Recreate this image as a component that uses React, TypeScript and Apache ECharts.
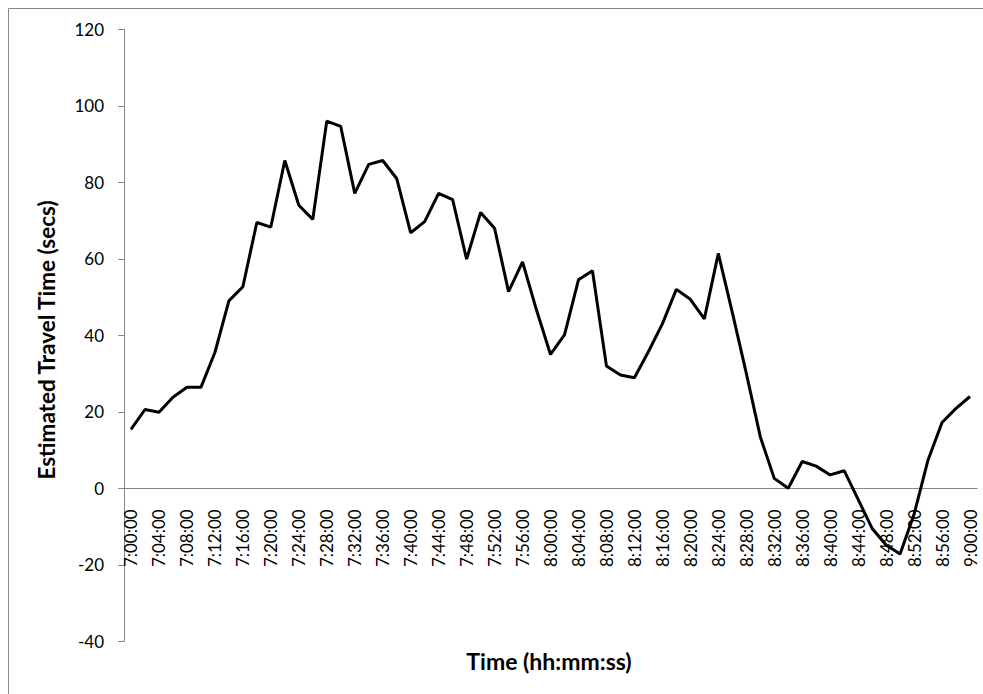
import React, { useEffect, useRef } from "react";
import * as echarts from "echarts";

const times = [
  "7:00:00", "7:02:00", "7:04:00", "7:06:00", "7:08:00", "7:10:00", "7:12:00", "7:14:00",
  "7:16:00", "7:18:00", "7:20:00", "7:22:00", "7:24:00", "7:26:00", "7:28:00", "7:30:00",
  "7:32:00", "7:34:00", "7:36:00", "7:38:00", "7:40:00", "7:42:00", "7:44:00", "7:46:00",
  "7:48:00", "7:50:00", "7:52:00", "7:54:00", "7:56:00", "7:58:00", "8:00:00", "8:02:00",
  "8:04:00", "8:06:00", "8:08:00", "8:10:00", "8:12:00", "8:14:00", "8:16:00", "8:18:00",
  "8:20:00", "8:22:00", "8:24:00", "8:26:00", "8:28:00", "8:30:00", "8:32:00", "8:34:00",
  "8:36:00", "8:38:00", "8:40:00", "8:42:00", "8:44:00", "8:46:00", "8:48:00", "8:50:00",
  "8:52:00", "8:54:00", "8:56:00", "8:58:00", "9:00:00",
];

const travelTime = [
  15.4, 20.6, 19.9, 23.8, 26.4, 26.4, 35.5, 49.0, 52.7, 69.5,
  68.3, 85.7, 74.0, 70.3, 96.0, 94.6, 77.1, 84.7, 85.7, 81.0,
  66.8, 69.7, 77.1, 75.5, 59.9, 72.1, 68.0, 51.4, 59.2, 46.6,
  35.0, 40.1, 54.5, 56.9, 32.0, 29.6, 28.9, 35.7, 43.0, 52.0,
  49.4, 44.3, 61.4, 46.0, 30.1, 13.5, 2.6, 0.0, 7.0, 5.8,
  3.5, 4.6, -2.9, -10.5, -14.8, -17.2, -6.8, 7.4, 17.2, 20.9,
  24.0,
];

const yTicks = { min: -40, max: 120, interval: 20 };

const FONT = "Lato, 'Open Sans', sans-serif";

const GRID_TOP = 29.3;
const GRID_BOTTOM = 52.7;
const H = 694;

export default function App() {
  const ref = useRef<HTMLDivElement>(null);
  useEffect(() => {
    if (!ref.current) return;
    const chart = echarts.init(ref.current, null, { renderer: "svg" });
    const plotH = H - GRID_TOP - GRID_BOTTOM;
    const zeroOffset = (plotH * (0 - yTicks.min)) / (yTicks.max - yTicks.min);
    chart.setOption({
      animation: false,
      backgroundColor: "#ffffff",
      grid: {
        left: 124,
        top: GRID_TOP,
        right: 6,
        bottom: GRID_BOTTOM,
        containLabel: false,
        outerBoundsMode: "none",
      },
      xAxis: {
        type: "category",
        data: times,
        boundaryGap: true,
        offset: -zeroOffset,
        axisLine: { onZero: false, lineStyle: { color: "#868686", width: 1 } },
        axisTick: { show: false },
        axisLabel: {
          rotate: 90,
          interval: 1,
          margin: 21,
          fontSize: 17,
          fontFamily: FONT,
          color: "#000000",
        },
        splitLine: { show: false },
      },
      yAxis: {
        type: "value",
        min: yTicks.min,
        max: yTicks.max,
        interval: yTicks.interval,
        axisLine: { show: true, onZero: false, lineStyle: { color: "#868686", width: 1 } },
        axisTick: { show: true, length: 6, lineStyle: { color: "#868686" } },
        axisLabel: { fontSize: 17, fontFamily: FONT, color: "#000000", margin: 20 },
        splitLine: { show: false },
      },
      series: [
        {
          type: "line",
          data: travelTime,
          symbol: "none",
          lineStyle: { color: "#000000", width: 3 },
          z: 5,
        },
      ],
      graphic: [
        {
          type: "line",
          shape: { x1: 8.5, y1: 8.5, x2: 983, y2: 8.5 },
          style: { stroke: "#8a8a8a", lineWidth: 1 },
        },
        {
          type: "line",
          shape: { x1: 8.5, y1: 8.5, x2: 8.5, y2: 694 },
          style: { stroke: "#8a8a8a", lineWidth: 1 },
        },
        {
          type: "text",
          x: 46,
          y: 340,
          rotation: Math.PI / 2,
          style: {
            text: "Estimated Travel Time (secs)",
            fontSize: 22.5,
            fontWeight: "bold",
            fontFamily: FONT,
            fill: "#000000",
            align: "center",
            verticalAlign: "middle",
          },
        },
        {
          type: "text",
          x: 549,
          y: 661,
          style: {
            text: "Time (hh:mm:ss)",
            fontSize: 23,
            fontWeight: "bold",
            fontFamily: FONT,
            fill: "#000000",
            align: "center",
            verticalAlign: "middle",
          },
        },
      ],
    });
    return () => chart.dispose();
  }, []);
  return (
    <div style={{ position: "fixed", left: 0, top: 0, width: 983, height: 694, background: "#fff" }}>
      <div ref={ref} style={{ width: 983, height: 694 }} />
    </div>
  );
}
